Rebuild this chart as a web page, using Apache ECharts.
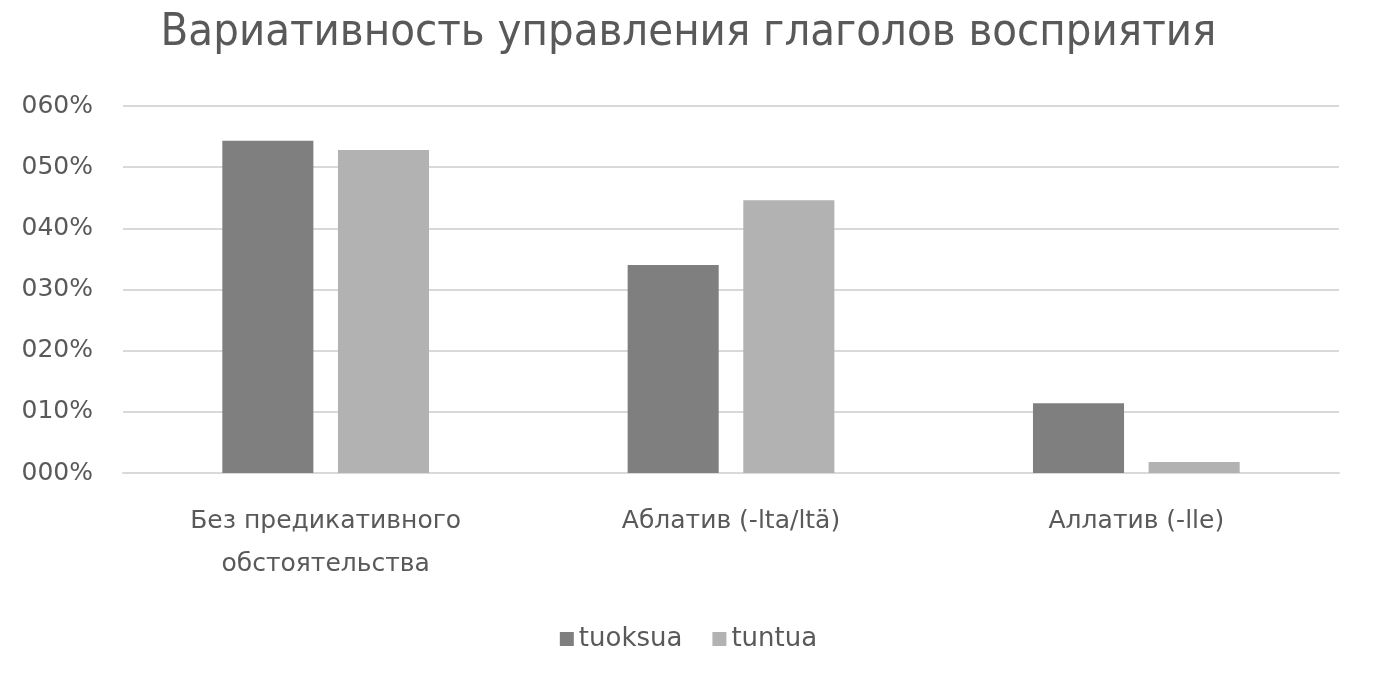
<!DOCTYPE html>
<html><head><meta charset="utf-8">
<script src="https://cdn.jsdelivr.net/npm/echarts@6/dist/echarts.min.js"></script>
<style>html,body{margin:0;padding:0;background:#fff}#c{width:1377px;height:682px}</style>
</head><body><div id="c"></div>
<script>
const title = 'Вариативность управления глаголов восприятия';
const categories = ['Без предикативного\nобстоятельства', 'Аблатив (-lta/ltä)', 'Аллатив (-lle)'];
const seriesNames = ['tuoksua', 'tuntua'];
const tuoksua = [54.3, 34.0, 11.4];
const tuntua = [52.8, 44.6, 1.8];
const yTickLabels = ['000%', '010%', '020%', '030%', '040%', '050%', '060%'];
const titleFont = '"DejaVu Sans Condensed", "Open Sans", sans-serif';
const font = '"DejaVu Sans", "Open Sans", sans-serif';
const chart = echarts.init(document.getElementById('c'));
chart.setOption({
  backgroundColor: '#fff',
  title: { text: title, left: 'center', top: 6, textStyle: { fontFamily: titleFont, fontSize: 45, fontWeight: 'normal', color: '#595959' } },
  legend: { bottom: 25, left: 'center', itemWidth: 14, itemHeight: 14, itemGap: 30, icon: 'rect',
    textStyle: { fontFamily: font, fontSize: 26, color: '#595959' }, data: seriesNames },
  grid: { left: 123, right: 38, top: 106, bottom: 209, containLabel: false },
  xAxis: { type: 'category', data: categories, axisLine: { lineStyle: { color: '#d9d9d9', width: 2 } }, axisTick: { show: false },
    axisLabel: { fontFamily: font, fontSize: 25, color: '#595959', margin: 27, lineHeight: 43 } },
  yAxis: { type: 'value', min: 0, max: 60, interval: 10, axisLine: { show: false }, axisTick: { show: false },
    splitLine: { lineStyle: { color: '#d9d9d9', width: 2 } },
    axisLabel: { fontFamily: font, fontSize: 25, color: '#595959', margin: 30, formatter: (v) => yTickLabels[Math.round(v / 10)] } },
  series: [
    { name: seriesNames[0], type: 'bar', data: tuoksua, barGap: '27%', barCategoryGap: '49%', itemStyle: { color: '#7f7f7f' } },
    { name: seriesNames[1], type: 'bar', data: tuntua, itemStyle: { color: '#b2b2b2' } }
  ]
});
</script></body></html>
